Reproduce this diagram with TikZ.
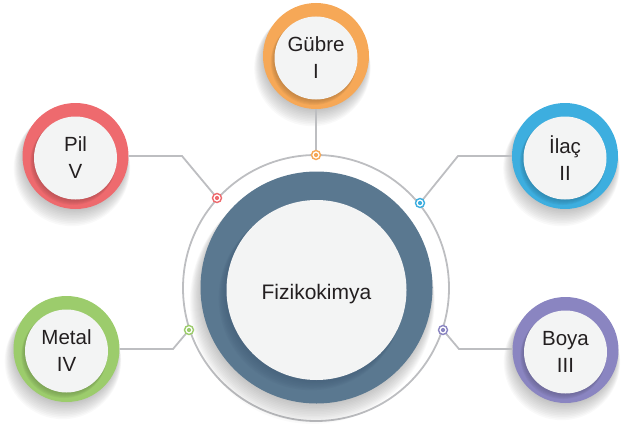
\documentclass[tikz,border=0pt]{standalone}
\usepackage{fontspec}
\setmainfont{Liberation Sans}
\definecolor{cOrange}{HTML}{F6A857}
\definecolor{cRed}{HTML}{EE6A6E}
\definecolor{cBlue}{HTML}{3DAEDF}
\definecolor{cGreen}{HTML}{9CCC6C}
\definecolor{cPurple}{HTML}{8A85C1}
\definecolor{cDark}{HTML}{5A7890}
\definecolor{cDarkSh}{HTML}{45607A}
\definecolor{cFill}{HTML}{F3F4F4}
\definecolor{cLine}{HTML}{BDBEC1}
\definecolor{cText}{HTML}{231F20}
\tikzset{
  outerc/.style={circle, fill=#1, minimum size=106pt, inner sep=0pt},
  innerc/.style={circle, fill=cFill, minimum size=83pt, inner sep=0pt, align=center,
     font=\fontsize{20.5}{27}\selectfont, text=cText},
  conn/.style={draw=cLine, line width=1.8pt},
  dotm/.style={circle, draw=#1, fill=white, line width=1.4pt, minimum size=9pt, inner sep=0pt,
     path picture={\fill[#1] (path picture bounding box.center) circle (2.1pt);}},
}
\newcommand{\softshadow}[3]{% x y r
  \foreach \k in {1,...,12}{
    \fill[black, opacity=0.022] (#1-0.3*\k, #2+1.0*\k) circle ({#3-2+0.6*\k});
  }}
\newcommand{\colorball}[6]{% name x y color text darkcolor
  \softshadow{#2}{#3}{53}
  \node[outerc=#4] (#1) at (#2,#3) {};
  \foreach \k in {1,...,6}{
    \fill[#6, opacity=0.14] (#2-0.4*\k, #3+2+0.7*\k) circle ({41+0.3*\k});
  }
  \node[innerc] (#1t) at (#2,#3+2) {#5};
}
\begin{document}
\begin{tikzpicture}[x=1pt, y=-1pt]
\useasboundingbox (0,0) rectangle (631,428);
% outer thin ring
\node[circle, draw=cLine, line width=1.8pt, minimum size=266pt, inner sep=0pt] (ring) at (316,288) {};
% big circle shadow
\foreach \k in {1,...,14}{
  \fill[black, opacity=0.02] (316.5-0.3*\k, 287.5+1.0*\k) circle ({114+0.6*\k});
}
\node[circle, fill=cDark, minimum size=232pt, inner sep=0pt] (core) at (316.5,287.5) {};
\foreach \k in {1,...,8}{
  \fill[cDarkSh, opacity=0.14] (316.5-0.7*\k, 290+1.0*\k) circle ({89+0.4*\k});
}
\node[circle, fill=cFill, minimum size=180pt, inner sep=0pt, font=\fontsize{21}{24}\selectfont, text=cText] (center) at (316.5,290) {};
\node[font=\fontsize{21}{24}\selectfont, text=cText, inner sep=0pt] (ctext) at (316.5,294) {Fizikokimya};
% colored circles
\colorball{gubre}{316}{56}{cOrange}{Gübre\\I}{cOrange!70!black}
\colorball{pil}{75.5}{156}{cRed}{Pil\\V}{cRed!70!black}
\colorball{ilac}{565}{156}{cBlue}{İlaç\\II}{cBlue!70!black}
\colorball{metal}{66.5}{349}{cGreen}{Metal\\IV}{cGreen!70!black}
\colorball{boya}{565.5}{350}{cPurple}{Boya\\III}{cPurple!70!black}
% connector points
\coordinate (d1) at (316,155);
\coordinate (d2) at (217,198);
\coordinate (d3) at (420,203);
\coordinate (d4) at (189,330);
\coordinate (d5) at (443,330);
\coordinate (b2) at (182,156);
\coordinate (b3) at (458,156);
\coordinate (b4) at (173,349);
\coordinate (b5) at (459,349);
% connectors
\draw[conn] (gubre.south) -- (d1);
\draw[conn] (pil.east |- b2) -- (b2) -- (d2);
\draw[conn] (ilac.west |- b3) -- (b3) -- (d3);
\draw[conn] (metal.east |- b4) -- (b4) -- (d4);
\draw[conn] (boya.west |- b5) -- (b5) -- (d5);
% dots
\node[dotm=cOrange] (m1) at (d1) {};
\node[dotm=cRed] (m2) at (d2) {};
\node[dotm=cBlue] (m3) at (d3) {};
\node[dotm=cGreen] (m4) at (d4) {};
\node[dotm=cPurple] (m5) at (d5) {};
\end{tikzpicture}
\end{document}
